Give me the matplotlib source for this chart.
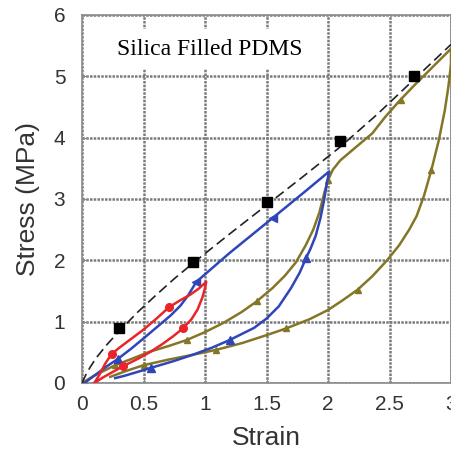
import matplotlib.pyplot as plt
import numpy as np

plt.rcParams['font.family'] = ['Liberation Sans', 'DejaVu Sans']

# virgin curve (dashed) and its square markers
virgin_x = [0.0, 0.03, 0.07, 0.12, 0.2, 0.3, 0.45, 0.6, 0.75, 0.9, 1.2, 1.5, 1.8, 2.1, 2.4, 2.7, 3.0]
virgin_y = [0.0, 0.13, 0.27, 0.42, 0.62, 0.84, 1.15, 1.43, 1.7, 1.95, 2.43, 2.9, 3.37, 3.85, 4.38, 4.95, 5.52]
square_x = [0.3, 0.9, 1.5, 2.1, 2.7]
square_y = [0.9, 1.97, 2.95, 3.95, 5.0]

# cycle to strain 1 (red)
red_x = [0.1, 0.14, 0.19, 0.24, 0.3, 0.4, 0.5, 0.6, 0.71, 0.8, 0.88, 0.95, 1.01,
         1.0, 0.98, 0.94, 0.89, 0.82, 0.74, 0.65, 0.55, 0.45, 0.33, 0.25, 0.17, 0.1]
red_y = [0.0, 0.13, 0.32, 0.47, 0.57, 0.72, 0.87, 1.04, 1.24, 1.35, 1.44, 1.54, 1.65,
         1.55, 1.4, 1.2, 1.04, 0.89, 0.76, 0.63, 0.5, 0.39, 0.27, 0.18, 0.09, 0.0]
red_marks = [3, 8, 17, 22]

# cycle to strain 2 (blue)
blue_x = [0.02, 0.1, 0.2, 0.29, 0.4, 0.52, 0.62, 0.72, 0.8, 0.86, 0.93, 1.2, 1.55, 1.8, 2.01,
          1.99, 1.97, 1.94, 1.9, 1.86, 1.82, 1.77, 1.7, 1.6, 1.5, 1.4, 1.3, 1.2, 1.05, 0.9,
          0.75, 0.565, 0.45, 0.35, 0.27]
blue_y = [0.0, 0.12, 0.27, 0.39, 0.56, 0.76, 0.93, 1.1, 1.26, 1.42, 1.65, 2.12, 2.69, 3.1, 3.45,
          3.25, 3.0, 2.7, 2.4, 2.2, 2.03, 1.8, 1.55, 1.25, 1.05, 0.9, 0.8, 0.7, 0.57, 0.46,
          0.36, 0.25, 0.18, 0.12, 0.08]
blue_up_marks = [3, 20, 27, 31]
blue_down_marks = [10, 12]

# cycle to strain 3 (olive)
olive_x = [0.0, 0.1, 0.27, 0.4, 0.55, 0.7, 0.85, 1.0, 1.15, 1.3, 1.42, 1.55, 1.65, 1.74,
           1.82, 1.88, 1.93, 1.97, 2.0, 2.04, 2.1, 2.2, 2.36, 2.47, 2.59, 2.7, 2.85, 3.0,
           3.0, 2.98, 2.95, 2.9, 2.84, 2.78, 2.72, 2.66, 2.58, 2.48, 2.36, 2.24, 2.12, 2.0,
           1.85, 1.66, 1.5, 1.3, 1.09, 0.9, 0.7, 0.5, 0.35, 0.23]
olive_y = [0.0, 0.12, 0.29, 0.39, 0.51, 0.6, 0.7, 0.83, 0.98, 1.16, 1.33, 1.55, 1.75, 1.97,
           2.25, 2.5, 2.78, 3.1, 3.31, 3.48, 3.63, 3.8, 4.07, 4.35, 4.62, 4.85, 5.15, 5.45,
           5.2, 4.85, 4.45, 3.95, 3.47, 3.05, 2.72, 2.5, 2.25, 2.0, 1.74, 1.52, 1.35, 1.19,
           1.04, 0.89, 0.78, 0.65, 0.54, 0.46, 0.38, 0.29, 0.19, 0.1]
olive_marks = [2, 6, 10, 18, 24, 32, 39, 43, 46, 49]

fig = plt.figure(figsize=(4.51, 4.58), dpi=100)
ax = fig.add_axes([82 / 451, 1 - 383 / 458, 369 / 451, 368 / 458])

olive = '#857627'
blue = '#2f46b8'
ax.plot(olive_x, olive_y, color=olive, lw=1.8, marker='^', ms=4.5,
        markevery=olive_marks, zorder=3)
ax.plot(blue_x, blue_y, color=blue, lw=1.8, zorder=4)
ax.plot([blue_x[i] for i in blue_up_marks], [blue_y[i] for i in blue_up_marks],
        ls='none', marker='^', ms=6, color=blue, zorder=4)
ax.plot([blue_x[i] for i in blue_down_marks], [blue_y[i] for i in blue_down_marks],
        ls='none', marker='<', ms=6, color=blue, zorder=4)
ax.plot(red_x, red_y, color='#e8262a', lw=1.8, marker='o', ms=5.5,
        markevery=red_marks, zorder=5)
ax.plot(virgin_x, virgin_y, color='#222222', lw=1.2, ls=(0, (6, 3)), zorder=6)
ax.plot(square_x, square_y, ls='none', marker='s', ms=7, color='black', zorder=7)

ax.set_xlim(0, 3)
ax.set_ylim(0, 6)
ax.set_xticks([0, 0.5, 1, 1.5, 2, 2.5, 3])
ax.set_xticklabels(['0', '0.5', '1', '1.5', '2', '2.5', '3'])
ax.set_yticks(range(7))
ax.grid(True, color='#7a7a7a', ls=(0, (1, 0.5)), lw=1.8)
ax.set_axisbelow(True)
for s in ax.spines.values():
    s.set_color('#8a8a8a')
    s.set_linewidth(1.2)
ax.tick_params(direction='in', length=4, color='#8a8a8a', labelsize=15,
               labelcolor='#333333', pad=9)
ax.tick_params(axis='y', pad=12)

ax.set_xlabel('Strain', fontsize=19, color='#333333', labelpad=8)
ax.set_ylabel('Stress (MPa)', fontsize=19, color='#333333', labelpad=10)

ax.text(0.345, 0.907, 'Silica Filled PDMS', transform=ax.transAxes,
        family=['Liberation Serif'], fontsize=17, ha='center', va='center',
        bbox=dict(facecolor='white', edgecolor='none', pad=7), zorder=8)

fig.savefig('out.png', dpi=100)
